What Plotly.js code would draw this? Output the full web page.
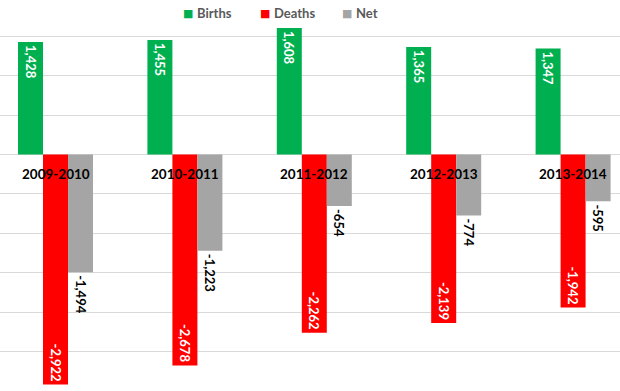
<!DOCTYPE html>
<html><head><meta charset="utf-8">
<script src="https://cdn.plot.ly/plotly-3.0.1.min.js"></script>
<style>html,body{margin:0;padding:0;background:#fff}#c{width:620px;height:391px}</style>
</head><body><div id="c"></div>
<script>
const categories = ['2009-2010','2010-2011','2011-2012','2012-2013','2013-2014'];
const births = [1428, 1455, 1608, 1365, 1347];
const deaths = [-2922, -2678, -2262, -2139, -1942];
const net = [-1494, -1223, -654, -774, -595];
const seriesNames = ['Births','Deaths','Net'];
const colors = ['#00B050','#FF0000','#A5A5A5'];

const fmt = v => v.toLocaleString('en-US');
const FONT = 'Lato, "Open Sans", sans-serif';

function barTrace(name, vals, color, inside) {
  return {
    type: 'bar', name: name, x: categories, y: vals,
    marker: {color: color},
    text: vals.map(fmt),
    textposition: inside ? 'inside' : 'outside',
    insidetextanchor: 'end',
    textangle: 90,
    constraintext: 'none',
    cliponaxis: false,
    textfont: {family: FONT, size: 13, weight: 700, color: inside ? '#FFFFFF' : '#000000'},
    outsidetextfont: {family: FONT, size: 13, weight: 700, color: '#000000'},
    showlegend: false, hoverinfo: 'skip'
  };
}
const data = [
  barTrace(seriesNames[0], births, colors[0], true),
  barTrace(seriesNames[1], deaths, colors[1], true),
  barTrace(seriesNames[2], net, colors[2], false)
];

const annotations = categories.map(c => ({
  x: c, y: 0, xref: 'x', yref: 'y', text: c, showarrow: false,
  yanchor: 'middle', yshift: -19.5,
  font: {family: FONT, size: 13.5, weight: 700, color: '#000000'}
}));

// legend (keys + labels) along the top
const legendKeyX = [188, 265, 347];
seriesNames.forEach((n, i) => {
  annotations.push({
    xref: 'paper', yref: 'paper', x: legendKeyX[i] / 620, y: 1 - 13 / 391,
    xanchor: 'center', yanchor: 'middle', showarrow: false,
    text: '\u25A0', font: {family: 'DejaVu Sans', size: 11, color: colors[i]}
  });
  annotations.push({
    xref: 'paper', yref: 'paper', x: (legendKeyX[i] + 7) / 620, y: 1 - 13 / 391,
    xanchor: 'left', yanchor: 'middle', showarrow: false,
    text: n, font: {family: FONT, size: 13, weight: 700, color: '#595959'}
  });
});

const layout = {
  width: 620, height: 391,
  margin: {l: 0, r: 0, t: 0, b: 0},
  paper_bgcolor: '#FFFFFF', plot_bgcolor: '#FFFFFF',
  barmode: 'group', bargap: 0.4204, bargroupgap: 0,
  showlegend: false,
  xaxis: {type: 'category', range: [-0.4289, 4.3625], showticklabels: false, showgrid: false,
    zeroline: false, showline: false, ticks: ''},
  yaxis: {range: [-3003, 1962], dtick: 500, tick0: 0, showticklabels: false, showgrid: true,
    gridcolor: '#D9D9D9', gridwidth: 1, zeroline: true, zerolinecolor: '#D9D9D9', zerolinewidth: 1,
    showline: false, ticks: ''},
  annotations: annotations,
  font: {family: FONT}
};
Plotly.newPlot('c', data, layout, {staticPlot: true, displayModeBar: false});
</script></body></html>
